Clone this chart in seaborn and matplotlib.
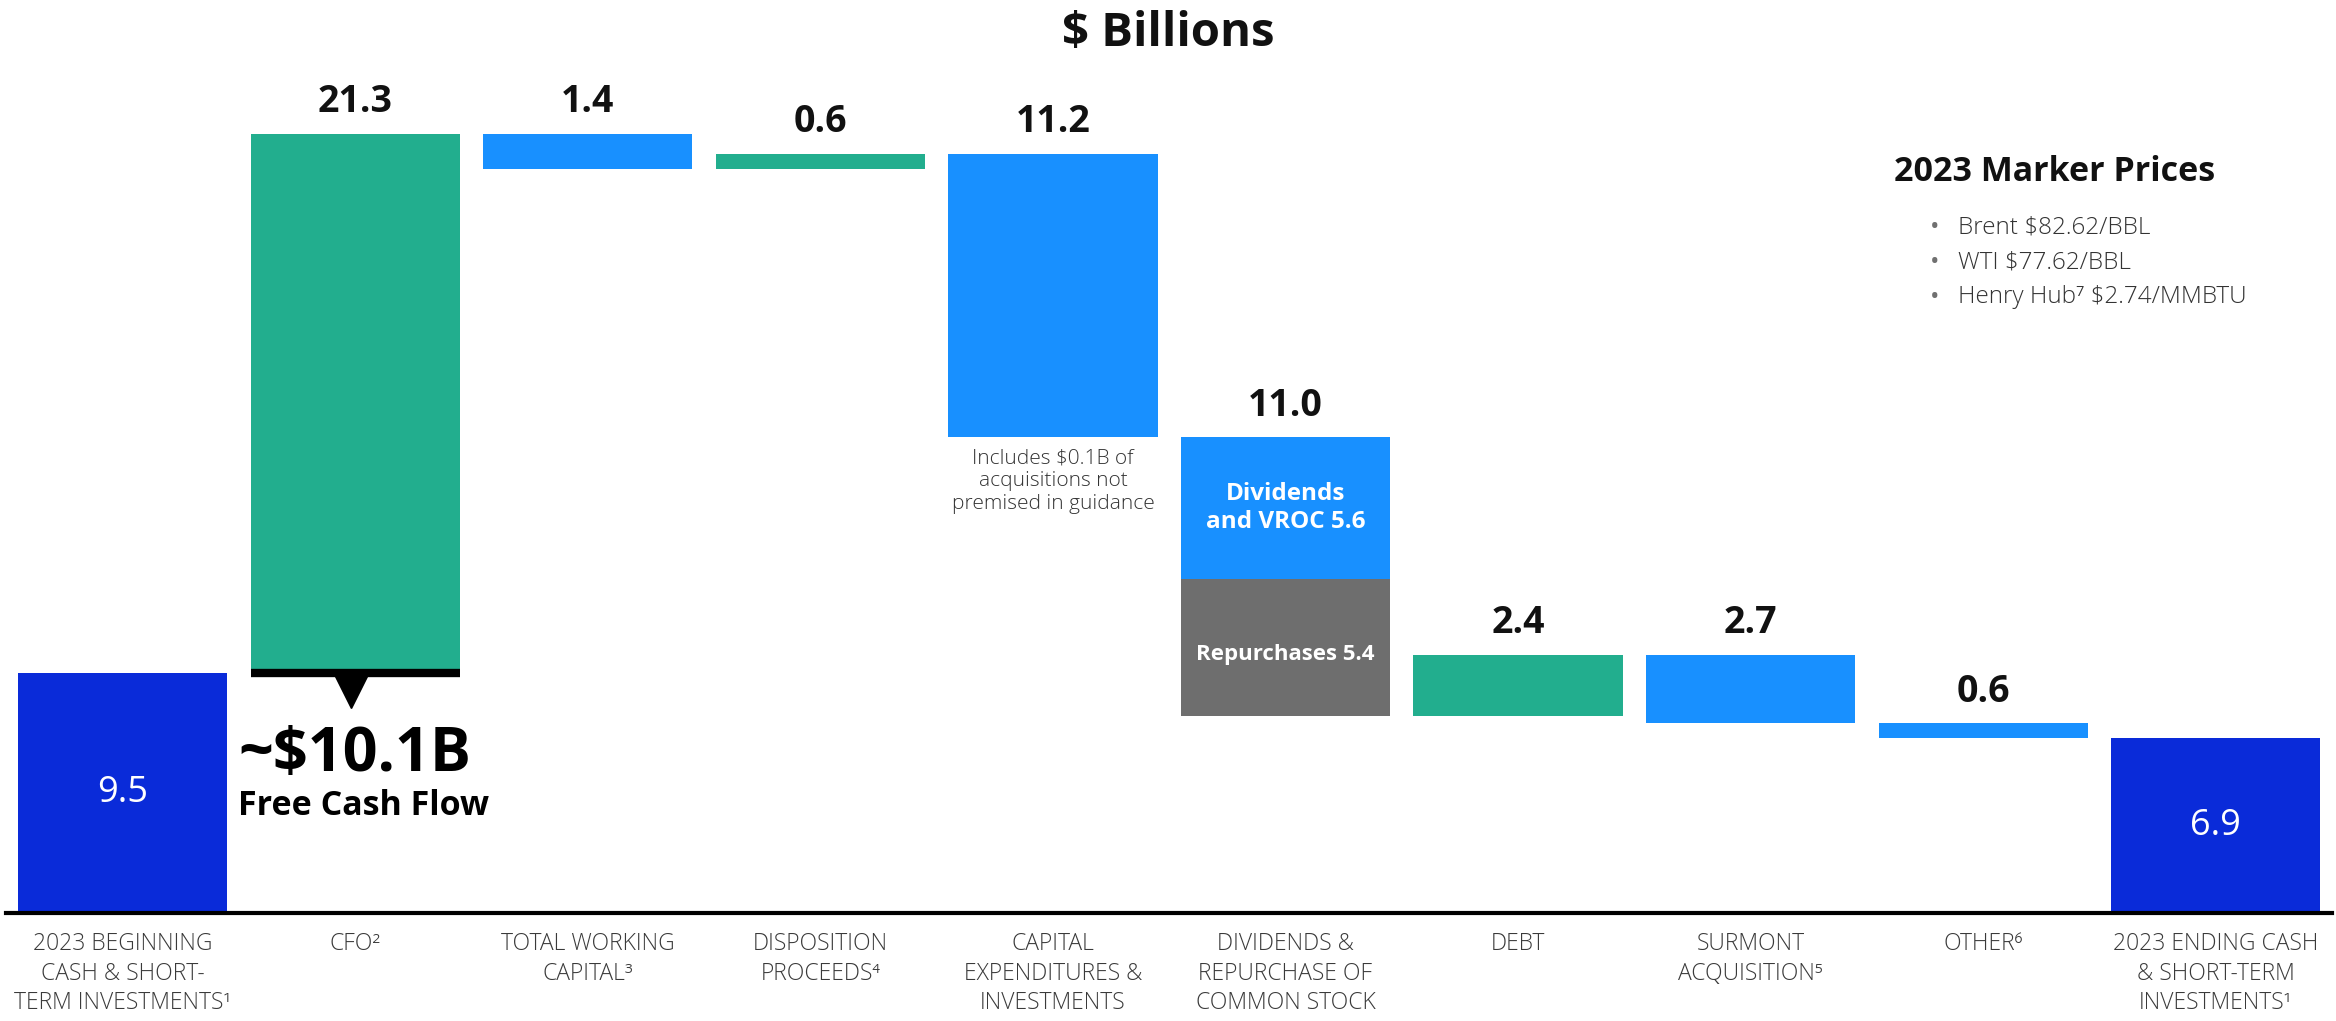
import matplotlib
matplotlib.use("Agg")
import matplotlib.pyplot as plt
import matplotlib.transforms as mtransforms
import numpy as np
import pandas as pd
import seaborn as sns

# waterfall steps, $ billions
steps = ["2023 BEGINNING\nCASH & SHORT-\nTERM INVESTMENTS\u00b9",
         "CFO\u00b2",
         "TOTAL WORKING\nCAPITAL\u00b3",
         "DISPOSITION\nPROCEEDS\u2074",
         "CAPITAL\nEXPENDITURES &\nINVESTMENTS",
         "DIVIDENDS &\nREPURCHASE OF\nCOMMON STOCK",
         "DEBT",
         "SURMONT\nACQUISITION\u2075",
         "OTHER\u2076",
         "2023 ENDING CASH\n& SHORT-TERM\nINVESTMENTS\u00b9"]
changes = [9.5, 21.3, -1.4, 0.6, -11.2, -11.0, 2.4, -2.7, -0.6, 6.9]
kinds = ["total", "up", "down", "up", "down", "down", "up", "down", "down", "total"]
dividends_vroc = 5.6
repurchases = 5.4
fcf_label = "~$10.1B"
marker_prices = ["Brent $82.62/BBL", "WTI $77.62/BBL", "Henry Hub\u2077 $2.74/MMBTU"]

# running totals -> bar bottoms / heights
bottoms, heights = [], []
level = 0.0
for k, v in zip(kinds, changes):
    if k == "total":
        bottoms.append(0.0)
        heights.append(v)
        level = v
    else:
        new = level + v
        bottoms.append(min(level, new))
        heights.append(abs(v))
        level = new
df = pd.DataFrame({"step": steps, "height": heights, "bottom": bottoms, "kind": kinds})

colors = {"total": "#0A2BD9", "up": "#22AE8E", "down": "#1890FF"}
gray = "#6E6E6E"

sns.set_theme(style="white")
plt.rcParams["font.family"] = ["Open Sans", "DejaVu Sans"]

fig = plt.figure(figsize=(23.36, 10.21), dpi=100)
ax = fig.add_axes([0.0027, 0.1058, 0.9956, 0.8673])

sns.barplot(data=df, x="step", y="height", bottom=df["bottom"].values, color="#1890FF",
            width=0.9, saturation=1, ax=ax, errorbar=None)
for p, k in zip(ax.patches, kinds):
    p.set_facecolor(colors[k])
    p.set_edgecolor("none")

# repurchases part of the dividends bar
div_i = 5
div_bottom = bottoms[div_i]
sns.barplot(x=[steps[div_i]], y=[repurchases], bottom=[div_bottom], order=steps, color=gray,
            width=0.9, saturation=1, ax=ax, errorbar=None)
ax.patches[-1].set_edgecolor("none")

ax.set_xlim(-0.5, len(steps) - 0.5)
ax.set_ylim(0, 35)
ax.set_xlabel("")
ax.set_ylabel("")
ax.set_yticks([])
for s in ["top", "left", "right"]:
    ax.spines[s].set_visible(False)
ax.spines["bottom"].set_color("black")
ax.spines["bottom"].set_linewidth(3)
ax.tick_params(axis="x", length=0, pad=14)
ax.set_xticks(range(len(steps)))
ax.set_xticklabels(steps, fontsize=16.5, color="#3A3A3A", fontweight="light", linespacing=1.3,
                   va="top")

# value labels
for i, (k, v, b, h) in enumerate(zip(kinds, changes, bottoms, heights)):
    txt = f"{abs(v):.1f}"
    if k == "total":
        ax.text(i, b + h / 2, txt, ha="center", va="center", color="white", fontsize=26)
    else:
        ax.annotate(txt, (i, b + h), xytext=(0, 9), textcoords="offset points",
                    ha="center", va="bottom", fontsize=27, fontweight="bold", color="#111111")

# inside labels on the dividends bar
top_part = bottoms[div_i] + repurchases
ax.text(div_i, top_part + dividends_vroc / 2, f"Dividends\nand VROC {dividends_vroc}",
        ha="center", va="center", color="white", fontsize=17.5, fontweight="bold", linespacing=1.2)
ax.text(div_i, div_bottom + repurchases / 2 - 0.3, f"Repurchases {repurchases}",
        ha="center", va="center", color="white", fontsize=16, fontweight="bold")

# capex note
ax.annotate("Includes $0.1B of\nacquisitions not\npremised in guidance", (4, bottoms[4]),
            xytext=(0, -8), textcoords="offset points", ha="center", va="top",
            fontsize=15, fontweight="light", color="#333333", linespacing=1.2)

# free cash flow marker under CFO bar
ax.hlines(bottoms[1], 1 - 0.45, 1 + 0.45, color="black", linewidth=6)
tri = mtransforms.offset_copy(ax.transData, fig=fig, x=-4, y=-17, units="dots")
ax.plot([1], [bottoms[1]], marker="v", markersize=26, color="black", transform=tri, clip_on=False)
ax.annotate(fcf_label, (1, bottoms[1]), xytext=(-84, -38), textcoords="offset points",
            ha="left", va="top", fontsize=44, fontweight="bold", color="black")
ax.annotate("Free Cash Flow", (1, bottoms[1]), xytext=(-84, -84), textcoords="offset points",
            ha="left", va="top", fontsize=24.5, fontweight="bold", color="black")

# title
fig.text(0.5, 0.967, "$ Billions", ha="center", va="center", fontsize=34, fontweight="bold",
         color="#111111")

# marker prices box
fig.text(0.811, 0.832, "2023 Marker Prices", ha="left", va="center", fontsize=24.5,
         fontweight="bold", color="#111111")
for j, line in enumerate(marker_prices):
    y = 0.777 - j * 0.034
    fig.text(0.826, y, "\u2022", ha="left", va="center", fontsize=18, color="#707070")
    fig.text(0.838, y, line, ha="left", va="center", fontsize=17.5, fontweight="light",
             color="#333333")

fig.savefig("out.png", dpi=100)
